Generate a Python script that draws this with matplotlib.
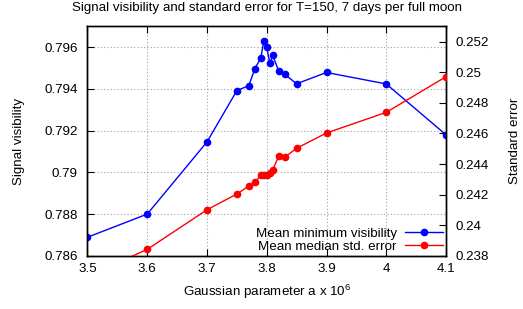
import matplotlib
matplotlib.use("Agg")
import matplotlib.pyplot as plt
from matplotlib.ticker import FixedLocator, FuncFormatter

plt.rcParams['font.family'] = ['Liberation Sans', 'DejaVu Sans']
plt.rcParams['mathtext.fontset'] = 'custom'
plt.rcParams['mathtext.rm'] = 'Liberation Sans'

# Data
a_vals = [3.5, 3.6, 3.7, 3.75, 3.77, 3.78, 3.79, 3.795, 3.80, 3.805, 3.81, 3.82, 3.83, 3.85, 3.9, 4.0, 4.1]
visibility = [0.78689, 0.7880, 0.79146, 0.79392, 0.79416, 0.79497, 0.79548, 0.79629, 0.79601,
              0.79524, 0.79561, 0.79486, 0.79470, 0.79425, 0.79479, 0.79424, 0.79180]
std_error = [0.23665, 0.23842, 0.24101, 0.24204, 0.24256, 0.24280, 0.24326, 0.24328, 0.24328,
             0.24343, 0.24363, 0.24452, 0.24444, 0.24503, 0.24603, 0.24738, 0.24971]

x_ticks = [3.5, 3.6, 3.7, 3.8, 3.9, 4.0, 4.1]
y_ticks = [0.786, 0.788, 0.790, 0.792, 0.794, 0.796]
y2_ticks = [0.238, 0.240, 0.242, 0.244, 0.246, 0.248, 0.250, 0.252]

title = "Signal visibility and standard error for T=150, 7 days per full moon"
label1 = "Mean minimum visibility"
label2 = "Mean median std. error"

fs = 9.6
fig = plt.figure(figsize=(5.23, 3.09), dpi=100)
ax = fig.add_axes([0.1673, 0.1722, 0.8528 - 0.1673, 0.9146 - 0.1722])
ax2 = ax.twinx()

l1, = ax.plot(a_vals, visibility, color='#0000ff', lw=1.0, marker='o', ms=4.5, label=label1, zorder=3)
l2, = ax2.plot(a_vals, std_error, color='#ff0000', lw=1.0, marker='o', ms=4.5, label=label2, zorder=3)

ax.set_xlim(3.5, 4.1)
ax.set_ylim(0.786, 0.797)
ax2.set_ylim(0.238, 0.253)

fmt = FuncFormatter(lambda v, p: f"{v:g}")
ax.xaxis.set_major_locator(FixedLocator(x_ticks))
ax.yaxis.set_major_locator(FixedLocator(y_ticks))
ax2.yaxis.set_major_locator(FixedLocator(y2_ticks))
ax.xaxis.set_major_formatter(fmt)
ax.yaxis.set_major_formatter(fmt)
ax2.yaxis.set_major_formatter(fmt)

ax.grid(True, color='#a0a0a0', linestyle=(0, (1, 2)), lw=0.8)
ax.tick_params(axis='x', direction='in', top=True, length=5, width=0.8, labelsize=fs, pad=5)
ax.tick_params(axis='y', direction='in', right=False, length=5, width=0.8, labelsize=fs, pad=7)
ax2.tick_params(axis='y', direction='in', length=5, width=0.8, labelsize=fs, pad=7)
for sp in ax.spines.values():
    sp.set_linewidth(1.0)
for sp in ax2.spines.values():
    sp.set_linewidth(1.0)

ax.set_title(title, fontsize=fs, pad=11)
ax.set_xlabel("Gaussian parameter a x 10$^{6}$", fontsize=fs, labelpad=6)
ax.set_ylabel("Signal visibility", fontsize=fs, labelpad=14)
ax2.set_ylabel("Standard error", fontsize=fs, labelpad=14)

leg = ax2.legend([l1, l2], [label1, label2], loc='lower right', fontsize=fs,
                 markerfirst=False, frameon=False, handlelength=2.9,
                 borderaxespad=0.1, borderpad=0.1, labelspacing=0.05, handletextpad=0.6)

fig.savefig("out.png", dpi=100)
